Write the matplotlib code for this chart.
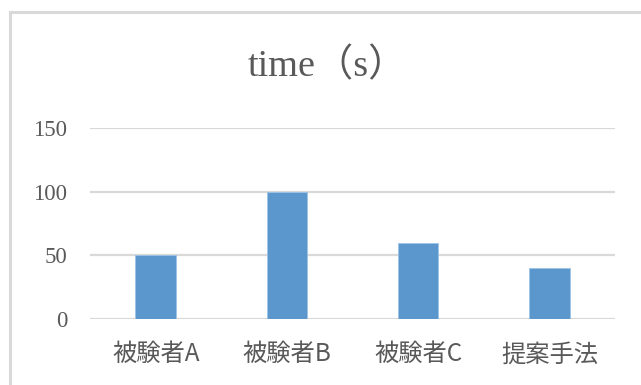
import matplotlib
matplotlib.use("Agg")
import matplotlib.pyplot as plt
from matplotlib.patches import Rectangle

categories = ["被験者A", "被験者B", "被験者C", "提案手法"]
values = [50, 100, 60, 40]
yticks = [0, 50, 100, 150]
title = "time（s）"

W, H = 641, 385
fig = plt.figure(figsize=(W / 100, H / 100), dpi=100)
fig.patch.set_facecolor("white")

# outer chart frame (cropped on right/bottom)
fig.patches.append(Rectangle((10 / W, -0.1), 1.2, 1 - 12 / H + 0.1,
                             transform=fig.transFigure, fill=False,
                             edgecolor="#d9d9d9", linewidth=2.2))

ax = fig.add_axes([90 / W, 1 - 319 / H, (615 - 90) / W, (319 - 128) / H])
x = range(len(categories))
ax.bar(x, values, width=0.31, color="#5B96CD", edgecolor="#9DC3E6", linewidth=0.6, zorder=3)
ax.set_xlim(-0.5, len(categories) - 0.5)
ax.set_ylim(0, 150)
ax.set_yticks(yticks)
ax.set_yticklabels([str(t) for t in yticks], family=["Liberation Serif", "DejaVu Sans"],
                   fontsize=16.5, color="#595959")
ax.set_xticks(list(x))
ax.set_xticklabels(categories, family=["Noto Sans CJK JP", "DejaVu Sans"],
                   fontsize=17.5, color="#595959")
ax.tick_params(axis="y", length=0, pad=16.5)
ax.tick_params(axis="x", length=0, pad=16)
for s in ax.spines.values():
    s.set_visible(False)
ax.grid(axis="y", color="#d9d9d9", linewidth=1.6, zorder=0)
ax.set_axisbelow(True)

fig.text(327 / W, 1 - 66 / H, title, ha="center", va="center",
         family=["Liberation Serif", "Noto Sans CJK JP"], fontsize=27.5, color="#595959")

fig.savefig("out.png", dpi=100)
